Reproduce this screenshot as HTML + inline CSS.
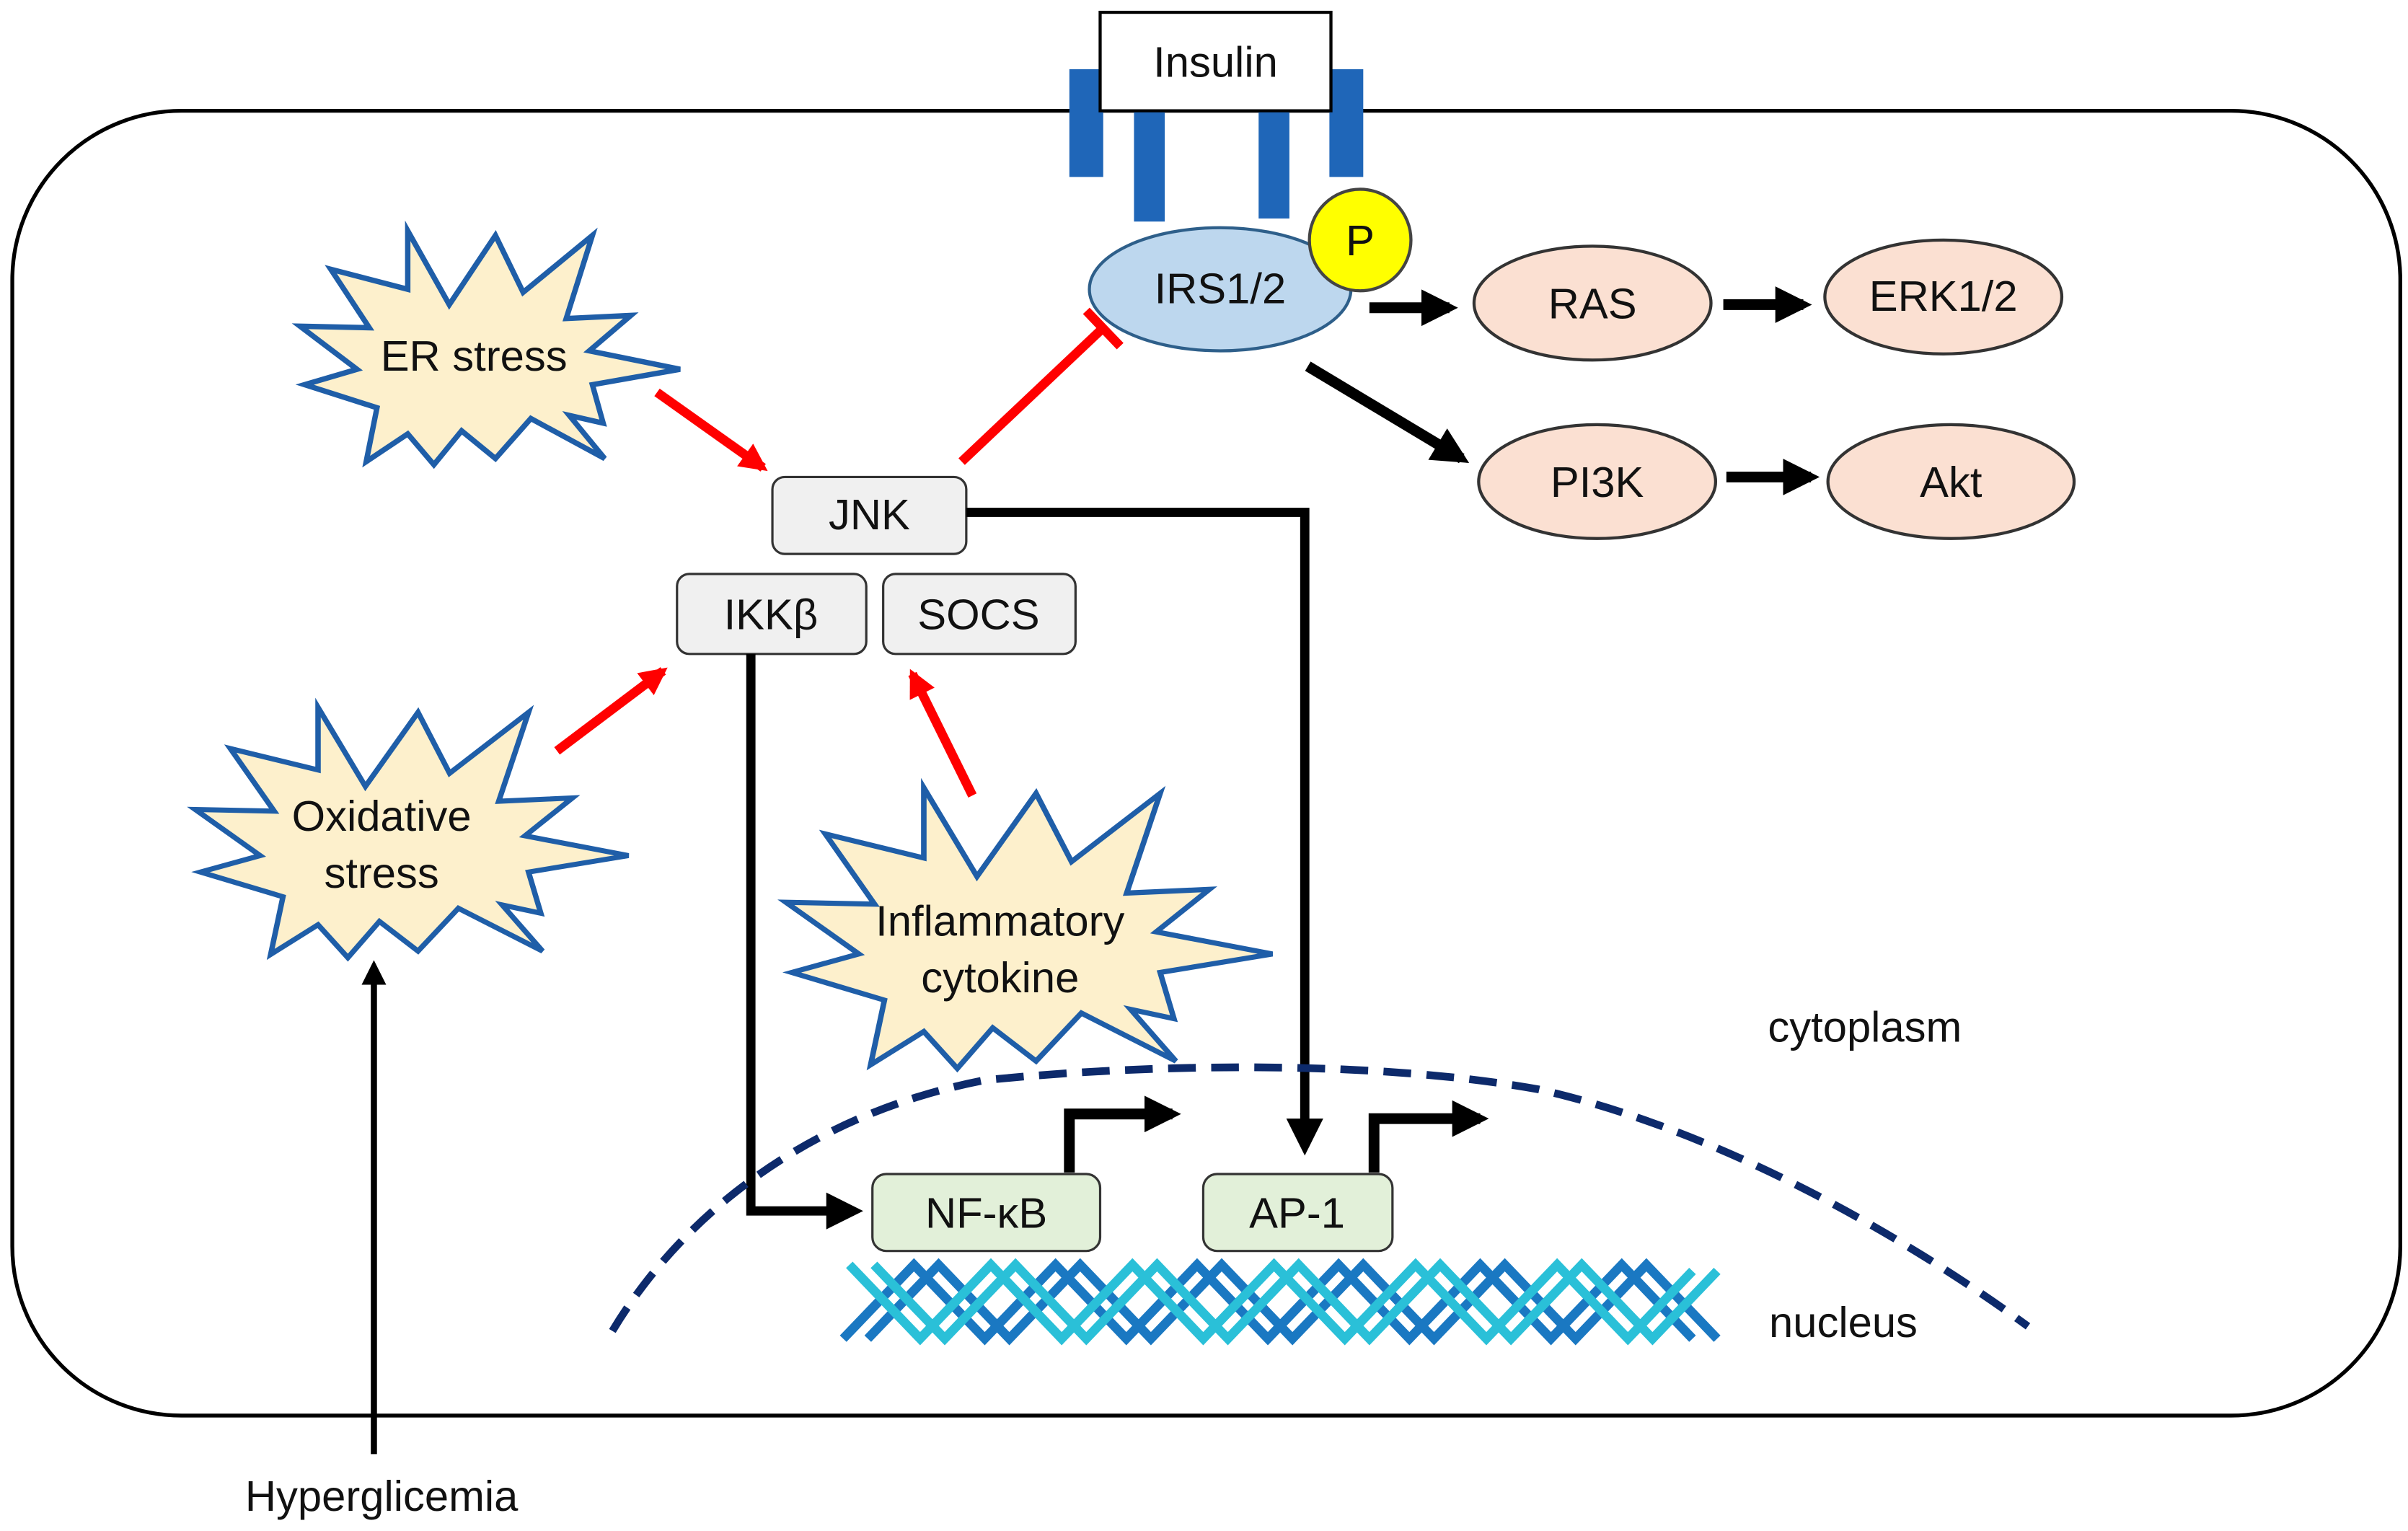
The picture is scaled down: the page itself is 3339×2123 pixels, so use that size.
<!DOCTYPE html>
<html><head><meta charset="utf-8"><style>
html,body{margin:0;padding:0;background:#fff;}
svg{display:block;}
text{font-family:"Liberation Sans",sans-serif;fill:#111;}
</style></head><body>
<svg width="3339" height="2123" viewBox="0 0 1565 995" preserveAspectRatio="none" xmlns="http://www.w3.org/2000/svg">
<defs>
<marker id="ab" markerWidth="4" markerHeight="4" refX="3" refY="2" orient="auto" markerUnits="strokeWidth"><path d="M0,0 L4,2 L0,4 Z" fill="#000"/></marker>
<marker id="ab2" markerWidth="3.4" markerHeight="3.4" refX="2.6" refY="1.7" orient="auto" markerUnits="strokeWidth"><path d="M0,0 L3.4,1.7 L0,3.4 Z" fill="#000"/></marker>
<marker id="ar" markerWidth="3" markerHeight="3" refX="2.4" refY="1.5" orient="auto" markerUnits="strokeWidth"><path d="M0,0 L3,1.5 L0,3 Z" fill="#f00"/></marker>
<polygon id="star" points="-45,-75 -18,-27 12,-72 30,-35 75,-72 58,-18 100,-20 73,3 132,15 75,25 82,50 60,45 83,73 35,47 12,73 -10,55 -28,77 -45,57 -72,75 -65,40 -112,25 -78,15 -115,-13 -70,-12 -95,-50 -45,-37"/>
</defs>
<rect x="8" y="72" width="1552" height="848" rx="110" ry="110" fill="#fff" stroke="#000" stroke-width="2.5"/>
<rect x="695" y="45" width="22" height="70" fill="#1f66b8"/>
<rect x="737" y="72" width="20" height="72" fill="#1f66b8"/>
<rect x="818" y="72" width="20" height="70" fill="#1f66b8"/>
<rect x="864" y="45" width="22" height="70" fill="#1f66b8"/>
<rect x="715" y="8" width="150" height="64" fill="#fff" stroke="#000" stroke-width="2"/>
<text x="790" y="50" font-size="28" text-anchor="middle">Insulin</text>
<ellipse cx="793" cy="188" rx="85" ry="40" fill="#bdd7ee" stroke="#2e5f8a" stroke-width="2"/>
<text x="793" y="197" font-size="28" text-anchor="middle">IRS1/2</text>
<circle cx="884" cy="156" r="33" fill="#ffff00" stroke="#444" stroke-width="2"/>
<text x="884" y="166" font-size="28" text-anchor="middle">P</text>
<g fill="#fbe0d2" stroke="#333" stroke-width="2">
<ellipse cx="1035" cy="197" rx="77" ry="37"/>
<ellipse cx="1263" cy="193" rx="77" ry="37"/>
<ellipse cx="1038" cy="313" rx="77" ry="37"/>
<ellipse cx="1268" cy="313" rx="80" ry="37"/>
</g>
<g font-size="28" text-anchor="middle">
<text x="1035" y="207">RAS</text><text x="1263" y="202">ERK1/2</text>
<text x="1038" y="323">PI3K</text><text x="1268" y="323">Akt</text>
</g>
<g stroke="#000" stroke-width="7" fill="none">
<line x1="890" y1="200" x2="942" y2="200" marker-end="url(#ab2)"/>
<line x1="1120" y1="198" x2="1172" y2="198" marker-end="url(#ab2)"/>
<line x1="1122" y1="310" x2="1177" y2="310" marker-end="url(#ab2)"/>
<line x1="850" y1="238" x2="950" y2="298" marker-end="url(#ab2)"/>
</g>
<g stroke="#333" stroke-width="1.5" fill="#f0f0f0">
<rect x="502" y="310" width="126" height="50" rx="8"/>
<rect x="440" y="373" width="123" height="52" rx="8"/>
<rect x="574" y="373" width="125" height="52" rx="8"/>
</g>
<g font-size="28" text-anchor="middle">
<text x="565" y="344">JNK</text><text x="501" y="409">IKKβ</text><text x="636" y="409">SOCS</text>
</g>
<g fill="#fdf0cc" stroke="#1f5ea8" stroke-width="3.5">
<use href="#star" transform="translate(310,225)"/>
<use href="#star" transform="translate(258,540) scale(1.14,1.07)" style="stroke-width:3.1"/>
<use href="#star" transform="translate(658,602) scale(1.28,1.2)" style="stroke-width:2.8"/>
</g>
<g font-size="28" text-anchor="middle">
<text x="308" y="241">ER stress</text>
<text x="248" y="540">Oxidative</text><text x="248" y="577">stress</text>
<text x="650" y="608">Inflammatory</text><text x="650" y="645">cytokine</text>
</g>
<g stroke="#f00" stroke-width="6" fill="none">
<line x1="427" y1="255" x2="496" y2="304" marker-end="url(#ar)"/>
<line x1="362" y1="488" x2="431" y2="436" marker-end="url(#ar)"/>
<line x1="632" y1="517" x2="593" y2="438" marker-end="url(#ar)"/>
<line x1="625" y1="300" x2="716" y2="214"/>
<line x1="706" y1="202" x2="728" y2="225"/>
</g>
<g stroke="#000" stroke-width="6" fill="none">
<polyline points="628,333 848,333 848,745" marker-end="url(#ab)"/>
<polyline points="488,425 488,787 555,787" marker-end="url(#ab)"/>
<polyline points="695,762 695,724 762,724" stroke-width="7" marker-end="url(#ab2)"/>
<polyline points="893,762 893,727 962,727" stroke-width="7" marker-end="url(#ab2)"/>
</g>
<path d="M398,865 C440,795 520,725 640,702 C760,690 900,690 1000,708 C1120,735 1240,805 1318,862" fill="none" stroke="#0d2a6b" stroke-width="5" stroke-dasharray="18,10"/>
<g stroke="#333" stroke-width="1.5" fill="#e2f0d9">
<rect x="567" y="763" width="148" height="50" rx="9"/>
<rect x="782" y="763" width="123" height="50" rx="9"/>
</g>
<g font-size="28" text-anchor="middle"><text x="641" y="798">NF-κB</text><text x="843" y="798">AP-1</text></g>
<g fill="none" stroke-width="6">
<polyline stroke="#1a78c2" points="548,870 594,822 640,870 686,822 732,870 778,822 824,870 870,822 916,870 962,822 1008,870 1054,822 1100,870"/>
<polyline stroke="#1a78c2" points="564,870 610,822 656,870 702,822 748,870 794,822 840,870 886,822 932,870 978,822 1024,870 1070,822 1116,870"/>
<polyline stroke="#2ac0d8" points="552,822 598,870 644,822 690,870 736,822 782,870 828,822 874,870 920,822 966,870 1012,822 1058,870 1100,826"/>
<polyline stroke="#2ac0d8" points="568,822 614,870 660,822 706,870 752,822 798,870 844,822 890,870 936,822 982,870 1028,822 1074,870 1116,826"/>
</g>
<line x1="243" y1="945" x2="243" y2="628" stroke="#000" stroke-width="4" marker-end="url(#ab)"/>
<text x="248" y="982" font-size="28" text-anchor="middle">Hyperglicemia</text>
<text x="1212" y="677" font-size="28" text-anchor="middle">cytoplasm</text>
<text x="1198" y="869" font-size="28" text-anchor="middle">nucleus</text>
</svg>
</body></html>
